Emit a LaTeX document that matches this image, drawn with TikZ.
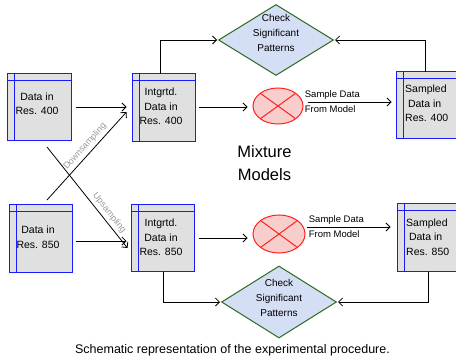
\documentclass[tikz,border=0pt]{standalone}
\usepackage{fontspec}
\setmainfont{Liberation Sans}
\usetikzlibrary{shapes.geometric,arrows.meta,calc}
\definecolor{boxfill}{HTML}{E0E0E0}
\definecolor{boxline}{HTML}{1A1AFF}
\definecolor{elfill}{HTML}{F8CECC}
\definecolor{elline}{HTML}{FF2020}
\definecolor{dmfill}{HTML}{D4DEF5}
\definecolor{dmline}{HTML}{2D6A1E}
\definecolor{lblgray}{HTML}{999999}
\begin{document}
\begin{tikzpicture}[x=1pt,y=-1pt,
  storebox/.style={fill=boxfill, rectangle, inner sep=0pt, outer sep=0pt},
  boxedge/.style={draw=boxline, line width=1.2pt},
  sumell/.style={ellipse, draw=elline, fill=elfill, line width=1pt, inner sep=0pt,
    path picture={
      \draw[elline, line width=1pt] ($(path picture bounding box.center)!0.7071!(path picture bounding box.north east)$) -- ($(path picture bounding box.center)!0.7071!(path picture bounding box.south west)$);
      \draw[elline, line width=1pt] ($(path picture bounding box.center)!0.7071!(path picture bounding box.north west)$) -- ($(path picture bounding box.center)!0.7071!(path picture bounding box.south east)$);}},
  checkdia/.style={diamond, draw=dmline, fill=dmfill, line width=1pt, inner sep=0pt},
  txt/.style={font=\fontsize{10.5}{14.5}\selectfont, align=center, inner sep=0pt},
  dtxt/.style={font=\fontsize{10}{15}\selectfont, align=center, inner sep=0pt},
  arr/.style={draw=black, line width=0.8pt, -{Straight Barb[length=4pt,width=8pt]}},
  lbl/.style={font=\fontsize{9.5}{15}\selectfont, inner sep=1pt, align=left},
  slbl/.style={font=\fontsize{9}{11}\selectfont, text=lblgray, sloped, above, inner sep=3pt}
]
\useasboundingbox (0,0) rectangle (456,356);

% storage boxes
\node[storebox, minimum width=64pt, minimum height=67pt] (d400) at (39.5,107) {};
\node[storebox, minimum width=63pt, minimum height=68pt] (i400) at (164,107.5) {};
\node[storebox, minimum width=64pt, minimum height=67pt] (s400) at (428.5,105) {};
\node[storebox, minimum width=63pt, minimum height=68pt] (d850) at (41,238.5) {};
\node[storebox, minimum width=63pt, minimum height=67pt] (i850) at (163,238) {};
\node[storebox, minimum width=64pt, minimum height=68pt] (s850) at (429.5,237.5) {};
\foreach \n in {d400,i400,s400,d850,i850,s850}{
  \draw[boxedge] (\n.north west) rectangle (\n.south east);
  \draw[boxedge] ([xshift=7pt]\n.north west) -- ([xshift=7pt]\n.south west);
  \draw[boxedge] ([yshift=-7pt]\n.north west) -- ([yshift=-7pt]\n.north east);
}
\node[txt] (d400t) at (37,103.5) {Data in\\Res. 400};
\node[txt] (i400t) at (161,106.5) {Intgrtd.\\Data in\\Res. 400};
\node[txt, align=left, anchor=west] (s400t) at (405,103.5) {Sampled\\\hspace*{2.8pt}Data in\\Res. 400};
\node[txt] (d850t) at (38,237) {Data in\\Res. 850};
\node[txt] (i850t) at (161,237.5) {Intgrtd.\\Data in\\Res. 850};
\node[txt, align=left, anchor=west] (s850t) at (406,237) {Sampled\\\hspace*{2.8pt}Data in\\Res. 850};

% ellipses
\node[sumell, minimum width=50pt, minimum height=36pt] (e400) at (278,106) {};
\node[sumell, minimum width=52pt, minimum height=38pt] (e850) at (279,234) {};

% diamonds
\node[checkdia, minimum width=115pt, minimum height=71pt] (dtop) at (276,40) {};
\node[dtxt] (dtopt) at (276,33) {Check\\Significant\\Patterns};
\node[checkdia, minimum width=115pt, minimum height=72pt] (dbot) at (279,302) {};
\node[dtxt] (dbott) at (279,297.5) {Check\\Significant\\Patterns};

% mixture models
\node[font=\fontsize{16.5}{23}\selectfont, align=center, inner sep=0pt] (mix) at (264.5,163.5) {Mixture\\Models};

% caption
\node[font=\fontsize{12.5}{14}\selectfont, inner sep=0pt] (cap) at (232.5,350) {Schematic representation of the experimental procedure.};

% horizontal arrows, top row
\draw[arr, shorten <=4pt, shorten >=6pt] (d400.east) -- (d400.east -| i400.west);
\draw[arr, shorten <=3pt, shorten >=5pt] ([yshift=0.5pt]i400.east) -- ([yshift=0.5pt]i400.east -| e400.west);
\draw[arr, shorten <=4pt, shorten >=5pt] ([yshift=4pt]e400.east) -- ([yshift=4pt]e400.east -| s400.west)
  node[lbl, pos=0, anchor=west] {Sample Data\\From Model};

% horizontal arrows, bottom row
\draw[arr, shorten <=3pt, shorten >=5pt] ([yshift=-2.5pt]d850.east) -- ([yshift=-2.5pt]d850.east -| i850.west);
\draw[arr, shorten <=4pt, shorten >=5pt] (i850.east) -- (i850.east -| e850.west);
\draw[arr, shorten <=1pt, shorten >=7pt] ([yshift=7pt]e850.east) -- ([yshift=7pt]e850.east -| s850.west)
  node[lbl, pos=0, anchor=west, xshift=2pt] {Sample Data\\From Model};

% cross arrows
\draw[arr] ([xshift=6pt,yshift=4.5pt]d850.north) -- ([xshift=-6pt,yshift=-4.5pt]i400.west)
  node[slbl, pos=0.55] {Downsampling};
\draw[arr] ([xshift=7.5pt,yshift=-6.5pt]d400.south) -- ([xshift=-4pt,yshift=-10pt]i850.west)
  node[slbl, pos=0.7] {Upsampling};

% to diamonds
\draw[arr, shorten >=1pt] ([xshift=-4pt]i400.north) |- (dtop.west);
\draw[arr, shorten >=1pt] ([xshift=-3.5pt]s400.north) |- (dtop.east);
\draw[arr, shorten >=1pt] (i850.south) |- (dbot.west);
\draw[arr, shorten >=1pt] ([xshift=-1.5pt]s850.south) |- (dbot.east);
\end{tikzpicture}
\end{document}
